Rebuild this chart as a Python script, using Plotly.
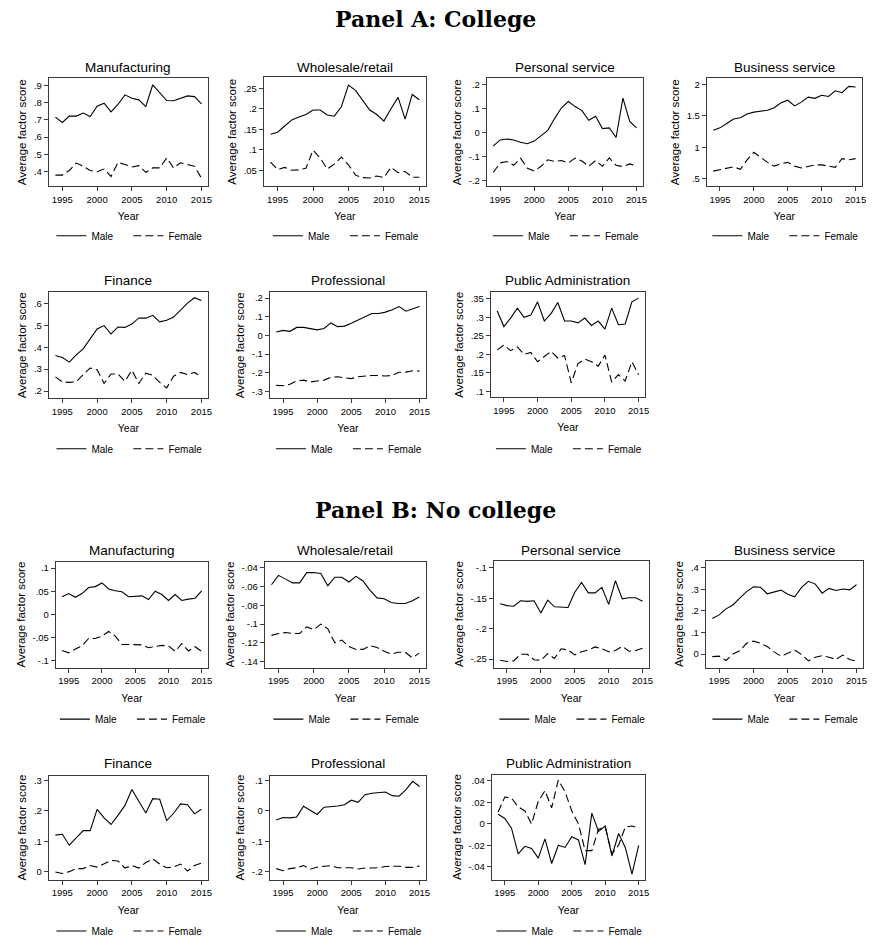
import plotly.graph_objects as go

# ---------------- data ----------------
years = list(range(1994, 2016))
panel_titles = ["Panel A: College", "Panel B: No college"]
industries = ["Manufacturing", "Wholesale/retail", "Personal service", "Business service",
              "Finance", "Professional", "Public Administration"]
series_names = ["Male", "Female"]

# Panel A: College
a_manuf_male = [.716, .685, .722, .722, .740, .720, .780, .797, .747, .790, .846, .826, .817, .778, .905, .860, .813, .812, .825, .840, .836, .793]
a_manuf_female = [.378, .378, .405, .448, .430, .405, .398, .413, .370, .452, .440, .425, .433, .394, .420, .420, .478, .420, .450, .440, .430, .360]
a_whole_male = [.138, .143, .158, .173, .180, .186, .197, .197, .185, .182, .205, .258, .245, .222, .197, .186, .170, .200, .228, .175, .235, .222]
a_whole_female = [.070, .052, .057, .050, .051, .055, .099, .080, .053, .065, .082, .063, .038, .032, .031, .036, .032, .057, .044, .047, .033, .033]
a_pers_male = [-.058, -.032, -.028, -.032, -.042, -.048, -.037, -.013, .008, .058, .102, .128, .107, .090, .050, .067, .015, .018, -.022, .142, .045, .018]
a_pers_female = [-.168, -.128, -.122, -.138, -.108, -.150, -.162, -.142, -.115, -.122, -.118, -.128, -.108, -.120, -.142, -.118, -.142, -.107, -.138, -.143, -.132, -.140]
a_bus_male = [1.27, 1.31, 1.38, 1.45, 1.47, 1.53, 1.56, 1.57, 1.59, 1.63, 1.71, 1.75, 1.66, 1.72, 1.80, 1.78, 1.83, 1.81, 1.90, 1.87, 1.97, 1.96]
a_bus_female = [.62, .64, .67, .69, .65, .80, .92, .84, .76, .70, .74, .76, .70, .67, .70, .72, .72, .70, .68, .82, .80, .82]
a_fin_male = [.362, .353, .332, .365, .392, .435, .483, .498, .460, .492, .490, .505, .533, .532, .545, .515, .522, .537, .570, .600, .625, .612]
a_fin_female = [.265, .242, .240, .243, .275, .305, .297, .235, .278, .278, .245, .295, .235, .282, .272, .240, .215, .268, .285, .275, .285, .265]
a_prof_male = [.018, .027, .022, .043, .043, .035, .030, .037, .067, .047, .050, .065, .082, .102, .118, .118, .125, .138, .155, .130, .142, .155]
a_prof_female = [-.268, -.270, -.262, -.245, -.240, -.250, -.245, -.240, -.225, -.222, -.228, -.232, -.222, -.218, -.215, -.215, -.218, -.215, -.198, -.197, -.190, -.192]
a_pub_male = [.318, .275, .298, .325, .300, .306, .342, .290, .310, .340, .290, .290, .285, .298, .278, .290, .268, .325, .280, .282, .342, .352]
a_pub_female = [.212, .225, .210, .220, .200, .205, .180, .195, .208, .190, .197, .123, .175, .187, .180, .168, .198, .125, .145, .128, .180, .145]

# Panel B: No college
b_manuf_male = [.038, .045, .037, .045, .058, .060, .068, .055, .051, .049, .038, .039, .040, .032, .050, .043, .030, .043, .030, .033, .035, .051]
b_manuf_female = [-.078, -.083, -.075, -.068, -.052, -.052, -.047, -.037, -.047, -.065, -.065, -.066, -.066, -.072, -.070, -.067, -.068, -.080, -.063, -.079, -.070, -.080]
b_whole_male = [-.058, -.048, -.052, -.056, -.056, -.045, -.045, -.046, -.059, -.050, -.050, -.055, -.049, -.054, -.064, -.072, -.073, -.077, -.078, -.078, -.075, -.071]
b_whole_female = [-.112, -.110, -.109, -.110, -.110, -.103, -.106, -.100, -.105, -.120, -.117, -.124, -.127, -.127, -.123, -.125, -.129, -.132, -.130, -.130, -.136, -.131]
b_pers_male = [-.159, -.162, -.163, -.154, -.155, -.154, -.174, -.153, -.164, -.164, -.165, -.140, -.124, -.141, -.141, -.132, -.160, -.121, -.151, -.149, -.149, -.155]
b_pers_female = [-.252, -.254, -.253, -.242, -.242, -.251, -.252, -.241, -.249, -.233, -.235, -.243, -.238, -.235, -.230, -.233, -.238, -.236, -.229, -.237, -.236, -.232]
b_bus_male = [.165, .182, .210, .228, .260, .290, .312, .310, .280, .288, .297, .278, .266, .310, .338, .325, .283, .305, .295, .302, .298, .322]
b_bus_female = [-.012, -.010, -.030, .000, .015, .050, .060, .050, .035, .010, -.010, .005, .018, -.002, -.032, -.015, -.008, -.015, -.025, -.005, -.025, -.033]
b_fin_male = [.120, .123, .087, .110, .135, .135, .205, .177, .155, .185, .218, .270, .230, .193, .240, .238, .168, .192, .223, .220, .190, .205]
b_fin_female = [-.001, -.006, .000, .010, .010, .020, .015, .025, .037, .035, .012, .020, .012, .030, .042, .025, .013, .015, .025, .002, .020, .028]
b_prof_male = [-.030, -.022, -.023, -.020, .015, .002, -.012, .012, .013, .016, .020, .035, .028, .053, .058, .061, .062, .050, .048, .070, .097, .080]
b_prof_female = [-.190, -.197, -.190, -.187, -.180, -.192, -.185, -.182, -.180, -.187, -.187, -.187, -.191, -.188, -.188, -.187, -.183, -.182, -.182, -.186, -.186, -.181]
b_pub_male = [.009, .005, -.004, -.028, -.021, -.023, -.032, -.014, -.037, -.020, -.022, -.012, -.015, -.038, .010, -.007, -.002, -.030, -.009, -.022, -.047, -.020]
b_pub_female = [.011, .025, .024, .016, .012, .000, .021, .031, .015, .041, .030, .012, .000, -.025, -.025, -.005, -.003, -.028, -.020, -.003, -.002, -.004]

# Tick labels
x_ticks = [1995, 2000, 2005, 2010, 2015]
a_manuf_yticks = [.4, .5, .6, .7, .8, .9]
a_whole_yticks = [.05, .1, .15, .2, .25]
a_pers_yticks = [-.2, -.1, 0, .1, .2]
a_bus_yticks = [.5, 1, 1.5, 2]
a_fin_yticks = [.2, .3, .4, .5, .6]
a_prof_yticks = [-.3, -.2, -.1, 0, .1, .2]
a_pub_yticks = [.1, .15, .2, .25, .3, .35]
b_manuf_yticks = [-.1, -.05, 0, .05, .1]
b_whole_yticks = [-.14, -.12, -.1, -.08, -.06, -.04]
b_pers_yticks = [-.25, -.2, -.15, -.1]
b_bus_yticks = [0, .1, .2, .3, .4]
b_fin_yticks = [0, .1, .2, .3]
b_prof_yticks = [-.2, -.1, 0, .1]
b_pub_yticks = [-.04, -.02, 0, .02, .04]

panels = [
    (a_manuf_male, a_manuf_female, a_manuf_yticks, [0.313, 0.943]),
    (a_whole_male, a_whole_female, a_whole_yticks, [0.011, 0.277]),
    (a_pers_male, a_pers_female, a_pers_yticks, [-0.225, 0.225]),
    (a_bus_male, a_bus_female, a_bus_yticks, [0.38, 2.10]),
    (a_fin_male, a_fin_female, a_fin_yticks, [0.168, 0.65]),
    (a_prof_male, a_prof_female, a_prof_yticks, [-0.337, 0.232]),
    (a_pub_male, a_pub_female, a_pub_yticks, [0.084, 0.368]),
    (b_manuf_male, b_manuf_female, b_manuf_yticks, [-0.115, 0.114]),
    (b_whole_male, b_whole_female, b_whole_yticks, [-0.1464, -0.0333]),
    (b_pers_male, b_pers_female, b_pers_yticks, [-0.264, -0.088]),
    (b_bus_male, b_bus_female, b_bus_yticks, [-0.063, 0.434]),
    (b_fin_male, b_fin_female, b_fin_yticks, [-0.026, 0.316]),
    (b_prof_male, b_prof_female, b_prof_yticks, [-0.226, 0.116]),
    (b_pub_male, b_pub_female, b_pub_yticks, [-0.052, 0.046]),
]

# ---------------- layout (pixel boxes: left, right, top, bottom) ----------------
W, H = 875, 946
boxes = [
    (49, 209, 78, 187), (265, 428, 77, 187), (489, 646, 78, 187), (710, 866, 78, 187),
    (49, 209, 294, 401), (271, 428, 294, 401), (493, 648, 294, 400),
    (56, 209, 566, 673), (266, 428, 566, 673), (496, 652, 565, 673), (709, 867, 565, 673),
    (49, 209, 782, 887), (271, 428, 782, 887), (494, 648, 781, 887),
]
title_y = [67, 67, 67, 67, 282, 282, 282, 555, 555, 555, 555, 770, 770, 770]
legend_y = [237, 237, 237, 237, 452, 452, 452, 725, 725, 725, 725, 939, 939, 939]
panel_title_y = [18, 514]

FONT = "Liberation Sans, Arial, Helvetica, sans-serif"
FRAME = "#3a3a3a"


def fmt(v):
    s = f"{v:g}"
    if s.startswith("0."):
        s = s[1:]
    elif s.startswith("-0."):
        s = "-" + s[2:]
    return s


def px(x):
    return x / W


def py(y):
    return 1 - y / H


fig = go.Figure()
layout = dict(
    width=W, height=H,
    margin=dict(l=0, r=0, t=0, b=0),
    paper_bgcolor="white", plot_bgcolor="white",
    font=dict(family=FONT, color="black", size=10),
    annotations=[],
)

for i, (male, female, yt, yr) in enumerate(panels):
    n = i + 1
    xa = "x" if n == 1 else f"x{n}"
    ya = "y" if n == 1 else f"y{n}"
    lg = "legend" if n == 1 else f"legend{n}"
    L, R, T, B = boxes[i]
    for name, vals, dash in ((series_names[0], male, "solid"), (series_names[1], female, "8px,4px")):
        fig.add_trace(go.Scatter(
            x=years, y=vals, mode="lines", name=name,
            line=dict(color="black", width=1.1, dash=dash),
            xaxis=xa, yaxis=ya, legend=lg, showlegend=True, hoverinfo="skip",
        ))
    axstyle = dict(showline=True, mirror=True, linecolor=FRAME, linewidth=1,
                   ticks="outside", ticklen=4, tickwidth=1, tickcolor=FRAME,
                   showgrid=False, zeroline=False)
    layout["xaxis" if n == 1 else f"xaxis{n}"] = dict(
        domain=[px(L), px(R)], anchor=ya, range=[1993.05, 2015.95],
        tickvals=x_ticks, ticktext=[str(t) for t in x_ticks],
        tickfont=dict(size=9.5),
        title=dict(text="Year", font=dict(size=10.5), standoff=9),
        **axstyle)
    layout["yaxis" if n == 1 else f"yaxis{n}"] = dict(
        domain=[py(B), py(T)], anchor=xa, range=yr,
        tickvals=yt, ticktext=[fmt(v) for v in yt],
        tickfont=dict(size=9.5),
        title=dict(text="Average factor score", font=dict(size=11.5), standoff=4),
        **axstyle)
    layout[lg] = dict(
        orientation="h", x=px((L + R) / 2), xanchor="center",
        y=py(legend_y[i]), yanchor="middle",
        font=dict(size=10), bgcolor="rgba(0,0,0,0)", borderwidth=0,
        entrywidth=32, entrywidthmode="pixels", itemwidth=30,
    )
    layout["annotations"].append(dict(
        text=industries[i % 7], x=px((L + R) / 2), y=py(title_y[i]),
        xref="paper", yref="paper", xanchor="center", yanchor="middle",
        showarrow=False, font=dict(size=13.5, family=FONT),
    ))

for t, yy in zip(panel_titles, panel_title_y):
    layout["annotations"].append(dict(
        text=f"<b>{t}</b>", x=0.5, y=py(yy), xref="paper", yref="paper",
        xanchor="center", yanchor="middle", showarrow=False,
        font=dict(size=22, family="DejaVu Serif, Liberation Serif, serif"),
    ))

fig.update_layout(**layout)
fig.write_html("out.html")
